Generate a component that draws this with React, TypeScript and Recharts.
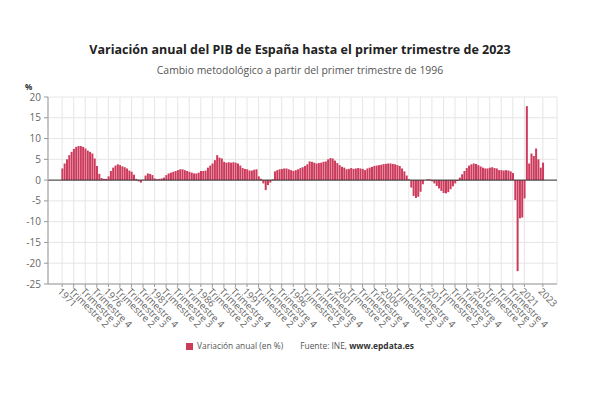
import React from 'react';
import { BarChart, Bar, XAxis, YAxis, CartesianGrid, ReferenceLine } from 'recharts';

// Annual GDP variation (%), quarterly, 1971 Q1 .. 2023 Q1
const growth1971to1980 = [
  2.8, 4.0, 5.0, 6.0,
  6.8, 7.5, 8.0, 8.2,
  8.2, 8.0, 7.6, 7.1,
  6.8, 6.4, 5.2, 3.4,
  1.5, 0.5, 0.3, 0.3,
  0.9, 2.2, 3.0, 3.5,
  3.8, 3.6, 3.3, 3.1,
  2.8, 2.3, 2.0, 1.3,
  0.3, -0.3, -0.6, 0.1,
  1.1, 1.6, 1.5, 1.2,
];
const growth1981to1990 = [
  0.4, 0.2, 0.3, 0.4,
  0.6, 1.2, 1.6, 1.8,
  2.0, 2.2, 2.4, 2.6,
  2.6, 2.4, 2.2, 2.0,
  1.8, 1.6, 1.6, 1.8,
  2.2, 2.2, 2.3, 3.0,
  3.5, 4.0, 4.8, 6.0,
  5.4, 5.2, 4.4, 4.2,
  4.3, 4.2, 4.3, 4.2,
  4.0, 3.5, 2.9, 2.7,
];
const growth1991to2000 = [
  2.6, 2.3, 2.3, 2.5,
  2.6, 0.9, 0.3, -0.8,
  -2.4, -1.2, -0.6, 0.2,
  2.1, 2.4, 2.6, 2.7,
  2.8, 2.8, 2.6, 2.4,
  2.2, 2.4, 2.6, 2.9,
  3.1, 3.4, 3.8, 4.5,
  4.4, 4.2, 4.0, 4.1,
  4.2, 4.4, 4.5, 5.0,
  5.3, 5.2, 4.7, 4.1,
];
const growth2001to2010 = [
  3.6, 3.2, 3.0, 2.6,
  2.7, 2.9, 2.7, 2.8,
  2.9, 2.8, 2.7, 2.4,
  2.8, 3.0, 3.2, 3.4,
  3.5, 3.6, 3.7, 3.85,
  3.9, 4.0, 4.0, 3.9,
  3.8, 3.6, 3.4, 2.8,
  2.1, 1.1, 0.2, -1.8,
  -3.8, -4.3, -4.0, -2.8,
  -1.0, 0.0, 0.2, 0.2,
];
const growth2011to2020 = [
  -0.3, -0.8, -1.4, -2.0,
  -2.6, -3.1, -3.2, -2.9,
  -2.2, -1.5, -0.8, -0.2,
  0.6, 1.4, 2.2, 2.9,
  3.5, 3.8, 4.0, 3.9,
  3.6, 3.3, 3.0, 2.8,
  2.8, 3.0, 3.1, 2.9,
  2.8, 2.4, 2.4, 2.3,
  2.4, 2.3, 2.1, 1.7,
  -4.8, -21.9, -9.2, -9.0,
];
const growth2021to2023 = [
  -4.4, 17.8, 4.0, 6.4,
  5.8, 7.6, 5.0, 3.0,
  4.2,
];

const firstYear = 1971;
const lastYear = 2023;
const lastQuarter = 1;
const quarterNames = ['', 'Trimestre 2', 'Trimestre 3', 'Trimestre 4'];
const yTicks = [-25, -20, -15, -10, -5, 0, 5, 10, 15, 20];
const labelStep = 5;

const TITLE = 'Variación anual del PIB de España hasta el primer trimestre de 2023';
const SUBTITLE = 'Cambio metodológico a partir del primer trimestre de 1996';
const SERIES_NAME = 'Variación anual (en %)';
const BAR_COLOR = '#cc3a5c';

const growth = [
  ...growth1971to1980,
  ...growth1981to1990,
  ...growth1991to2000,
  ...growth2001to2010,
  ...growth2011to2020,
  ...growth2021to2023,
];

const categories: { key: string; label: string }[] = [];
for (let y = firstYear; y <= lastYear; y++) {
  for (let q = 1; q <= 4; q++) {
    if (y === lastYear && q > lastQuarter) break;
    categories.push({ key: `${y}-T${q}`, label: q === 1 ? String(y) : quarterNames[q - 1] });
  }
}

const data = categories.map((c, i) => ({ key: c.key, label: c.label, value: growth[i] }));
const labelByKey: Record<string, string> = {};
categories.forEach((c) => (labelByKey[c.key] = c.label));

const xTicks = categories
  .filter((_, i) => i % labelStep === 0 && i <= categories.length - labelStep)
  .map((c) => c.key)
  .concat([categories[categories.length - 1].key]);

const FONT = '"Open Sans", "DejaVu Sans", sans-serif';

const XTick = (props: any) => {
  const { x, y, payload } = props;
  return (
    <g transform={`translate(${x - 3},${y + 3})`}>
      <text
        x={0}
        y={0}
        dy={3}
        transform="rotate(45)"
        textAnchor="start"
        fontSize={9.6}
        fill="#666"
        fontFamily={FONT}
      >
        {labelByKey[payload.value]}
      </text>
    </g>
  );
};

export default function App() {
  return (
    <div
      style={{
        position: 'relative',
        width: 600,
        height: 400,
        margin: -8,
        background: '#fff',
        fontFamily: FONT,
        overflow: 'hidden',
      }}
    >
      <div
        style={{
          position: 'absolute',
          top: 40,
          left: 0,
          width: 600,
          textAlign: 'center',
          fontSize: 12.5,
          fontWeight: 700,
          color: '#222',
          lineHeight: '20px',
        }}
      >
        {TITLE}
      </div>
      <div
        style={{
          position: 'absolute',
          top: 62,
          left: 0,
          width: 600,
          textAlign: 'center',
          fontSize: 10.4,
          color: '#555',
          lineHeight: '16px',
        }}
      >
        {SUBTITLE}
      </div>
      <div
        style={{
          position: 'absolute',
          top: 82,
          left: 25,
          fontSize: 8,
          fontWeight: 700,
          color: '#333',
          lineHeight: '10px',
        }}
      >
        %
      </div>
      <BarChart
        width={600}
        height={400}
        data={data}
        margin={{ top: 97, right: 43, bottom: 66, left: 8 }}
        barCategoryGap="15%"
      >
        <CartesianGrid stroke="#e6e6e6" strokeWidth={1} />
        <XAxis
          dataKey="key"
          ticks={xTicks}
          interval={0}
          tick={<XTick />}
          tickSize={3}
          tickMargin={0}
          height={50}
          padding={{ left: 13, right: 13 }}
          axisLine={{ stroke: '#999' }}
          tickLine={{ stroke: '#999' }}
        />
        <YAxis
          domain={[-25, 20]}
          ticks={yTicks}
          interval={0}
          width={40}
          tickSize={4}
          tickMargin={3}
          axisLine={{ stroke: '#999' }}
          tickLine={{ stroke: '#999' }}
          tick={{ fontSize: 10, fill: '#666', fontFamily: FONT }}
        />
        <ReferenceLine y={0} stroke="#333" strokeWidth={1} />
        <Bar dataKey="value" name={SERIES_NAME} fill={BAR_COLOR} isAnimationActive={false} />
      </BarChart>
      <div
        style={{
          position: 'absolute',
          top: 340,
          left: 0,
          width: 600,
          display: 'flex',
          justifyContent: 'center',
          alignItems: 'center',
          fontSize: 8.4,
          color: '#555',
          lineHeight: '12px',
        }}
      >
        <span
          style={{
            display: 'inline-block',
            width: 7,
            height: 7,
            background: BAR_COLOR,
            marginRight: 4,
          }}
        />
        <span>{SERIES_NAME}</span>
        <span style={{ marginLeft: 17 }}>
          Fuente: INE, <b style={{ color: '#333' }}>www.epdata.es</b>
        </span>
      </div>
    </div>
  );
}
